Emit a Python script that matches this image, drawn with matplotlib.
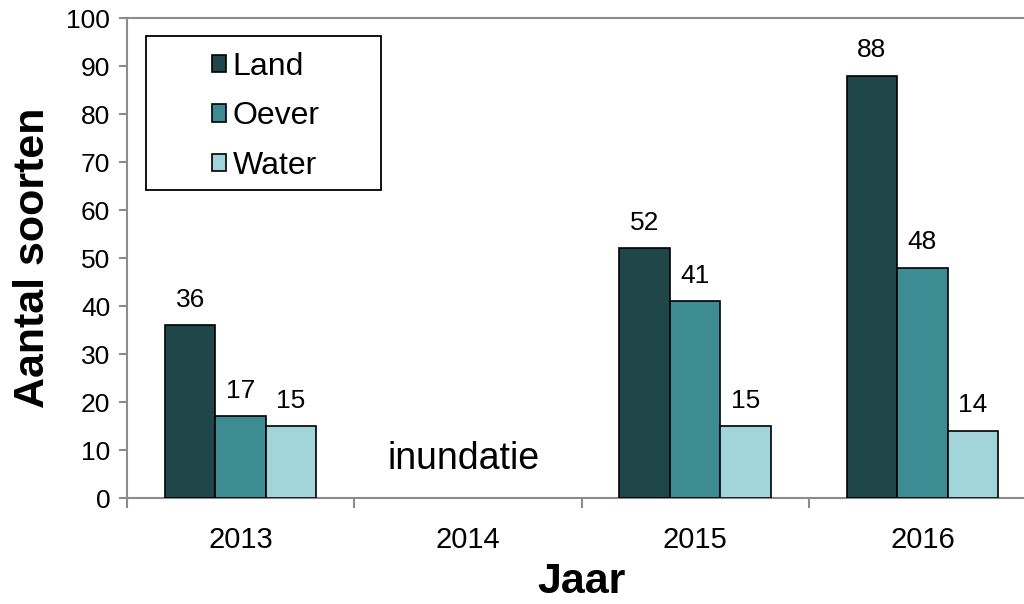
import numpy as np
import matplotlib.pyplot as plt
from matplotlib.patches import Rectangle

plt.rcParams['font.family'] = ['Liberation Sans', 'DejaVu Sans']

# Gegevens
jaren = ['2013', '2014', '2015', '2016']
land = [36, 0, 52, 88]
oever = [17, 0, 41, 48]
water = [15, 0, 15, 14]
reeksen = {'Land': land, 'Oever': oever, 'Water': water}
kleuren = ['#1f4749', '#3e8c93', '#a2d5d9']

fig = plt.figure(figsize=(10.24, 6.04), dpi=100)
ax = fig.add_axes([127 / 1024, 1 - 498 / 604, 909 / 1024, 480 / 604])

x = np.arange(len(jaren))
breedte = 0.222
for i, (naam, waarden) in enumerate(reeksen.items()):
    pos = x + (i - 1) * breedte
    for p, w in zip(pos, waarden):
        if w == 0:
            continue
        ax.bar(p, w, breedte, color=kleuren[i], edgecolor='black', linewidth=1.2, zorder=3)
        ax.text(p, w + 5.3, str(w), ha='center', va='center', fontsize=19)
    # legenda-item
    ax.bar(0, 0, 0, color=kleuren[i], edgecolor='black', linewidth=1.2, label=naam)

ax.text(0.98, 8.2, 'inundatie', ha='center', va='center', fontsize=27)

ax.set_xlim(-0.5, 3.5)
ax.set_ylim(0, 100)
ax.set_yticks(np.arange(0, 101, 10))
ax.set_xticks(x)
ax.set_xticklabels(jaren, fontsize=21)
ax.set_xticks(np.arange(-0.5, 4, 1), minor=True)
ax.tick_params(axis='x', which='major', length=0, pad=20)
ax.tick_params(axis='x', which='minor', length=7, color='#8c8c8c', width=1.5)
ax.tick_params(axis='y', labelsize=19, length=6, color='#8c8c8c', width=1.5, pad=6)

for kant in ['left', 'bottom', 'top']:
    ax.spines[kant].set_color('#8c8c8c')
    ax.spines[kant].set_linewidth(1.5)
ax.spines['right'].set_visible(False)

ax.set_ylabel('Aantal soorten', fontsize=31, fontweight='bold', labelpad=10)
ax.set_xlabel('Jaar', fontsize=31, fontweight='bold', labelpad=6)

# legendakader
ax.add_patch(Rectangle((19 / 909, 308 / 480), 235 / 909, 154 / 480, transform=ax.transAxes,
                       fill=False, edgecolor='black', linewidth=1.3, zorder=5, clip_on=False))
leg = ax.legend(loc='upper left', bbox_to_anchor=(85 / 909, 0.930), fontsize=23,
                frameon=False, handlelength=0.45, handleheight=0.45, handletextpad=0.2,
                labelspacing=0.62, borderpad=0, borderaxespad=0)

fig.savefig('out.png', dpi=100)
